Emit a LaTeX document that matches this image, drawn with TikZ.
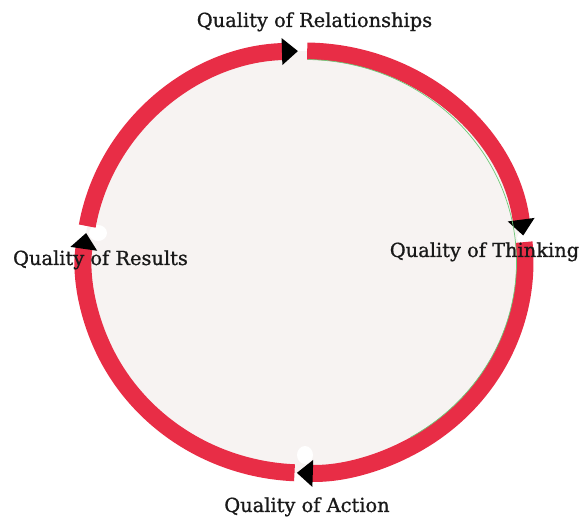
\documentclass[tikz,border=0pt]{standalone}
\usepackage{fontspec}
\setmainfont{DejaVu Serif}
\newfontfamily\lblfont[FakeBold=0.9]{DejaVu Serif}
\usetikzlibrary{arrows.meta}
\definecolor{ringred}{RGB}{232,45,70}
\definecolor{discfill}{RGB}{247,243,242}
\definecolor{edgegreen}{RGB}{110,200,120}
\tikzset{
  ring/.style={draw=ringred, line width=17pt, line cap=butt,
    -{Triangle[length=16pt,width=26pt,fill=black,color=black]}},
  label/.style={font=\lblfont\fontsize{19.4}{21}\selectfont, text=black!90, anchor=base, inner sep=0pt},
  blob/.style={fill=white, draw=none}
}
\begin{document}
\begin{tikzpicture}[x=1pt,y=1pt]
\useasboundingbox (0,0) rectangle (582,517);
\coordinate (c) at (304.5,255);
\def\rx{220.5}\def\ry{211}
% disc
\fill[discfill] (c) ellipse[x radius=\rx, y radius=\ry];
% white spots at the gaps
\fill[blob] (301,485) ellipse[x radius=8, y radius=11];
\fill[blob] (528,279) ellipse[x radius=11, y radius=8];
\fill[blob] (98,284) ellipse[x radius=9, y radius=8];
\fill[blob] (305,62) ellipse[x radius=8, y radius=9];
% ring arcs (clockwise cycle)
\draw[ring] (c) ++(170.2:\rx pt and \ry pt) coordinate (resultsEnd)
  arc[start angle=170.2, end angle=91.7, x radius=\rx, y radius=\ry] coordinate (relTip);
\draw[ring] (c) ++(89.3:\rx pt and \ry pt) coordinate (relStart)
  arc[start angle=89.3, end angle=7.2, x radius=\rx, y radius=\ry] coordinate (thinkTip);
\draw[ring] (c) ++(5.4:\rx pt and \ry pt) coordinate (thinkStart)
  arc[start angle=5.4, end angle=-92, x radius=\rx, y radius=\ry] coordinate (actionTip);
\draw[ring] (c) ++(-92.6:\rx pt and \ry pt) coordinate (actionStart)
  arc[start angle=-92.6, end angle=-187.9, x radius=\rx, y radius=\ry] coordinate (resultsTip);
% thin green inner edge on the right half
\draw[edgegreen, line width=0.7pt] (c) ++(89:\rx pt - 8.5pt and \ry pt - 8.5pt)
  arc[start angle=89, end angle=-60, x radius=\rx-8.5, y radius=\ry-8.5];
% labels
\node[label] (rel) at (314.5,490) {Quality of Relationships};
\node[label] (think) at (484.5,260) {Quality of Thinking};
\node[label] (res) at (100.5,252) {Quality of Results};
\node[label] (act) at (307,5) {Quality of Action};
\end{tikzpicture}
\end{document}
